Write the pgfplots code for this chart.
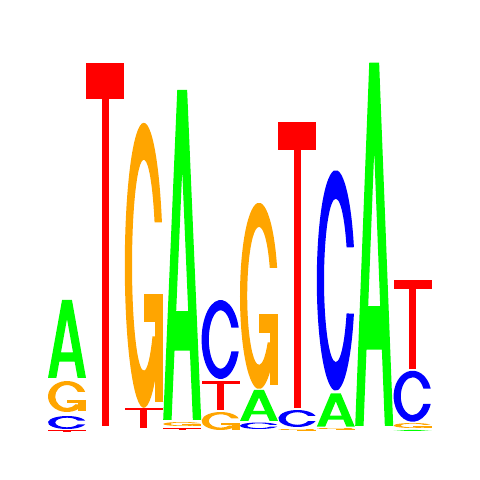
\documentclass[border=0pt]{standalone}
\usepackage{pgfplots}
\pgfplotsset{compat=1.18}
\usepackage{pgfplotstable}

\definecolor{baseA}{RGB}{0,255,0}
\definecolor{baseC}{RGB}{0,0,255}
\definecolor{baseG}{RGB}{255,165,0}
\definecolor{baseT}{RGB}{255,0,0}

% letter box: width \lw, height \lh, origin at lower left
\newdimen\lw \newdimen\lh
\def\gp#1#2{\pgfpoint{#1\lw}{#2\lh}}

\def\glyphA{%
  \pgfseteorule
  \pgfpathmoveto{\gp{0}{0}}
  \pgfpathlineto{\gp{0.37}{1}}
  \pgfpathlineto{\gp{0.63}{1}}
  \pgfpathlineto{\gp{1}{0}}
  \pgfpathlineto{\gp{0.78}{0}}
  \pgfpathlineto{\gp{0.702}{0.21}}
  \pgfpathlineto{\gp{0.298}{0.21}}
  \pgfpathlineto{\gp{0.22}{0}}
  \pgfpathclose
  \pgfpathmoveto{\gp{0.342}{0.33}}
  \pgfpathlineto{\gp{0.5}{0.757}}
  \pgfpathlineto{\gp{0.658}{0.33}}
  \pgfpathclose
  \pgfusepath{fill}}

\def\glyphT{%
  \pgfpathrectanglecorners{\gp{0}{0.9}}{\gp{1}{1}}
  \pgfusepath{fill}
  \pgfpathrectanglecorners{\gp{0.405}{0}}{\gp{0.595}{0.9}}
  \pgfusepath{fill}}

\def\glyphC{%
  \pgfpathmoveto{\gp{0.9769}{0.65}}
  \pgfpatharc{17.5}{342.5}{0.5\lw and 0.5\lh}
  \pgfpathlineto{\gp{0.7834}{0.35}}
  \pgfpatharc{336.1}{23.9}{0.31\lw and 0.37\lh}
  \pgfpathclose
  \pgfusepath{fill}}

\def\glyphG{%
  \pgfpathmoveto{\gp{0.9769}{0.65}}
  \pgfpatharc{17.5}{330}{0.5\lw and 0.5\lh}
  \pgfpathlineto{\gp{0.7286}{0.25}}
  \pgfpatharc{317.5}{23.9}{0.31\lw and 0.37\lh}
  \pgfpathclose
  \pgfusepath{fill}
  \pgfpathrectanglecorners{\gp{0.5}{0.30}}{\gp{1}{0.40}}
  \pgfusepath{fill}
  \pgfpathrectanglecorners{\gp{0.79}{0.02}}{\gp{1}{0.40}}
  \pgfusepath{fill}}

\pgfdeclareplotmark{nothing}{}

\pgfplotsset{
  letter/.style 2 args={
    only marks, mark=nothing, scatter,
    visualization depends on={\thisrow{h} \as \hh},
    scatter/@pre marker code/.code={%
      \lw=38pt\relax \lh=\hh pt\relax
      \pgfsetfillcolor{#1}#2},
    scatter/@post marker code/.code={},
  },
}

% x = left edge of column, y = bottom of letter, h = letter height
\pgfplotstableread{
x y h
48 102 78
163.2 60 330
240 59 31
316.8 53.3 33.4
355.2 54 363.3
393.6 49 1
}\tabA
\pgfplotstableread{
x y h
48 51 13
201.6 101 79
240 51 6.5
278.4 53 17
316.8 89.3 220.7
393.6 58.3 51
}\tabC
\pgfplotstableread{
x y h
48 68 31
124.8 72.3 285
163.2 54 4
201.6 50 18
240 91 186.3
278.4 50 1
316.8 51 1
393.6 52 5
}\tabG
\pgfplotstableread{
x y h
48 48.5 1
86.4 54 363.3
124.8 52 20
163.2 50 2
201.6 70 29.3
278.4 72.3 286
393.6 110.7 89.3
}\tabT

\begin{document}
\begin{tikzpicture}
\begin{axis}[
  width=480pt, height=480pt, scale only axis,
  xmin=0, xmax=480, ymin=0, ymax=480,
  hide axis, clip=false,
]
\addplot[draw=none, forget plot] coordinates {(0,0) (480,480)};
\addplot[letter={baseA}{\glyphA}] table[x=x, y=y] {\tabA};
\addplot[letter={baseC}{\glyphC}] table[x=x, y=y] {\tabC};
\addplot[letter={baseG}{\glyphG}] table[x=x, y=y] {\tabG};
\addplot[letter={baseT}{\glyphT}] table[x=x, y=y] {\tabT};
\end{axis}
\end{tikzpicture}
\end{document}
